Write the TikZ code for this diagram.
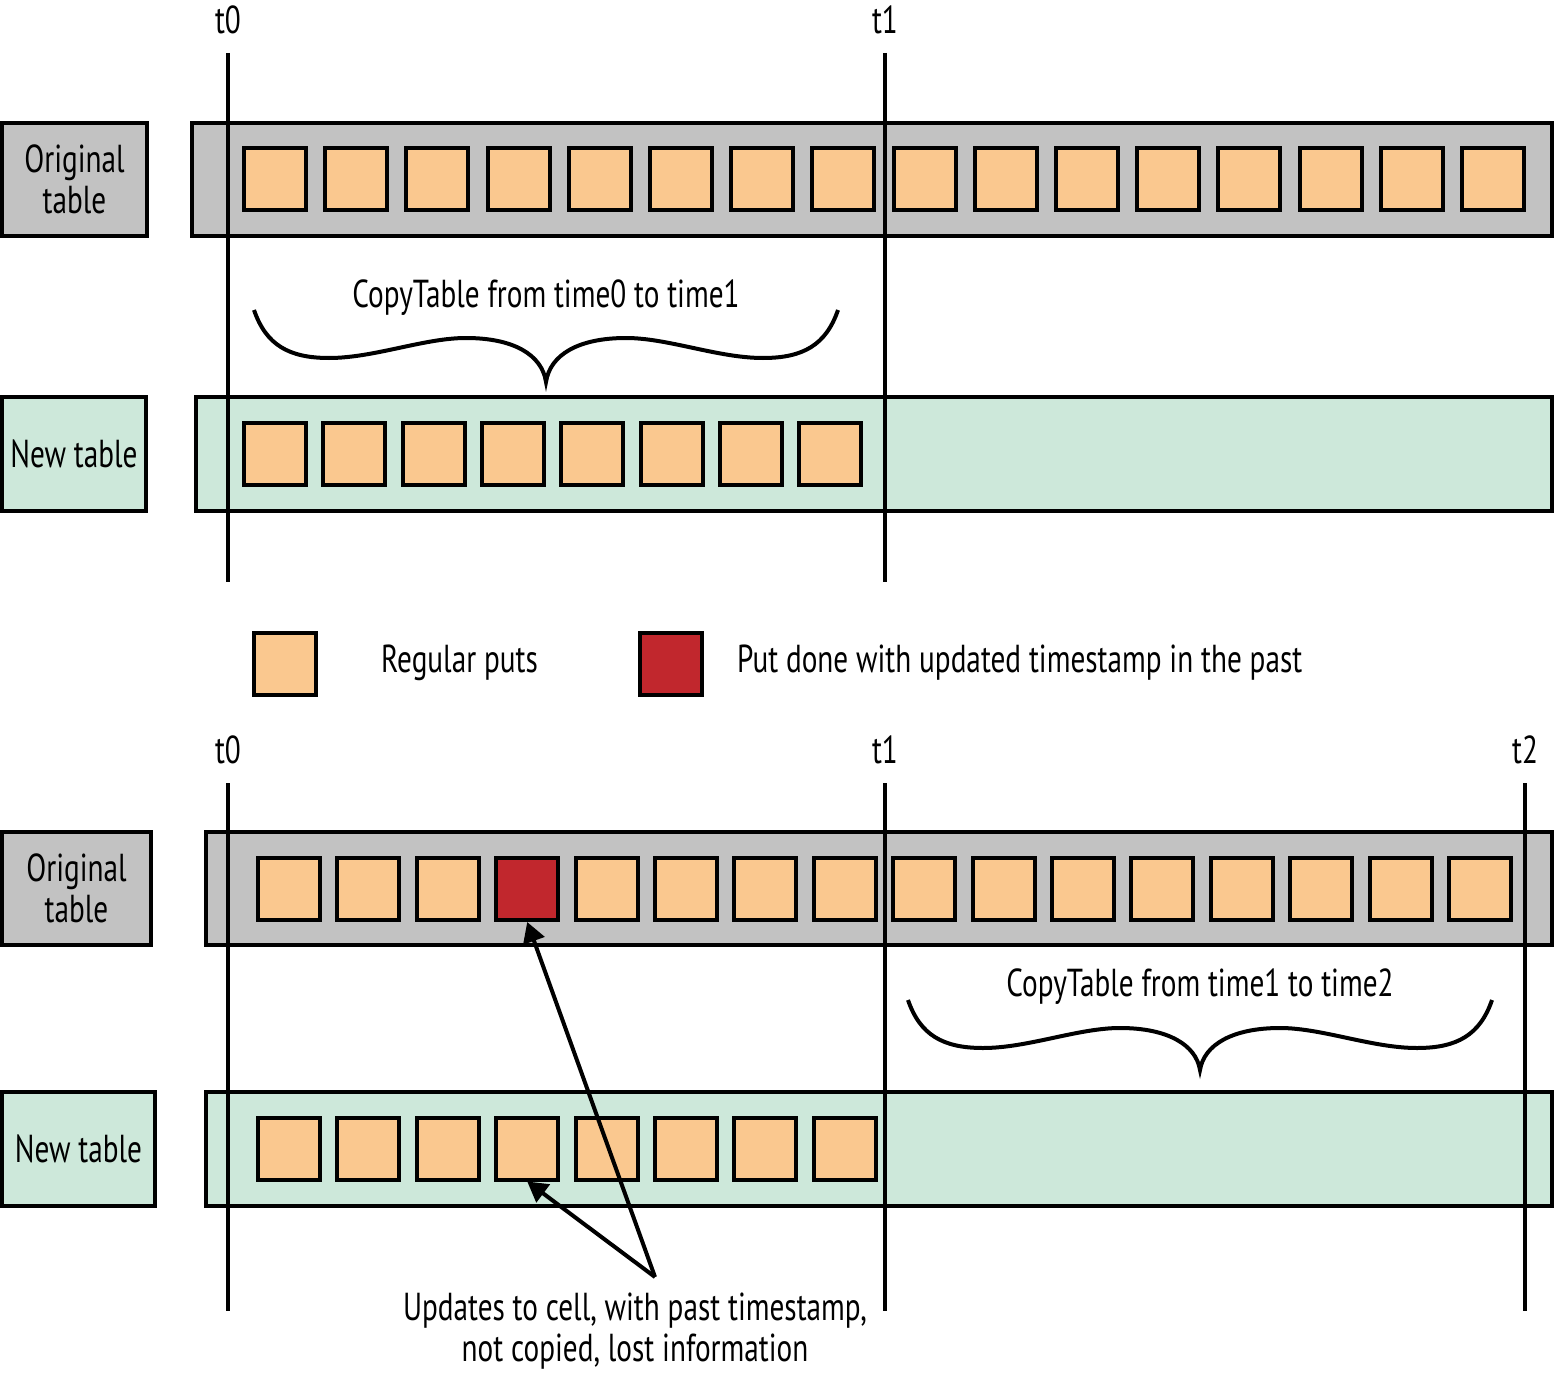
\documentclass[tikz,border=0pt]{standalone}
\usepackage{fontspec}
\setmainfont{PT Sans}[FakeStretch=0.75]
\usetikzlibrary{arrows.meta}

\definecolor{cellorange}{HTML}{FAC88F}
\definecolor{putred}{HTML}{C1272D}
\definecolor{tablegray}{HTML}{C2C2C2}
\definecolor{tablegreen}{HTML}{CDE8DA}

\tikzset{
  txt/.style={font=\fontsize{39}{41}\selectfont, inner sep=0pt},
  boxed/.style={draw, line width=4pt, inner sep=0pt, outer sep=0pt,
    anchor=north west},
  cell/.style={draw, line width=4pt, inner sep=0pt, fill=cellorange,
    minimum width=62pt, minimum height=62pt},
  tline/.style={line width=4pt},
  ptr/.style={line width=4pt, -{Triangle[length=20pt,width=22pt]}},
}

\begin{document}
\begin{tikzpicture}[x=1pt, y=-1pt]
  \useasboundingbox (0,0) rectangle (1556,1375);

  % ---- before the copy ----
  % Original table
  \node[boxed, fill=tablegray, minimum width=145pt, minimum height=113pt,
    txt, align=center] (olabA) at (2,123) {Original\\table};
  \node[boxed, fill=tablegray, minimum width=1360pt, minimum height=113pt]
    (obarA) at (192,123) {};
  \foreach \i in {0,...,15}
    \node[cell] (oa\i) at (275+81.2*\i, 179.5) {};
  % New table
  \node[boxed, fill=tablegreen, minimum width=144pt, minimum height=114pt,
    txt] (nlabA) at (2,397) {New table};
  \node[boxed, fill=tablegreen, minimum width=1356pt, minimum height=114pt]
    (nbarA) at (196,397) {};
  \foreach \i in {0,...,7}
    \node[cell] (na\i) at (275+79.3*\i, 454) {};
  % brace
  \draw[line width=4pt] (254,310) .. controls (266,345) and (289,358) .. (329,358)
    .. controls (374,358) and (424,338) .. (466,338)
    .. controls (514,338) and (542,355) .. (546,382)
    .. controls (550,355) and (578,338) .. (626,338)
    .. controls (668,338) and (718,358) .. (763,358)
    .. controls (803,358) and (826,345) .. (838,310);
  \node[txt] (copyA) at (546,298) {CopyTable from time0 to time1};
  % time lines
  \node[txt] (tA0) at (228,20) {t0};
  \node[txt] (tA1) at (885,20) {t1};
  \coordinate (tA0top) at (228,53);
  \coordinate (tA0bot) at (228,582);
  \coordinate (tA1top) at (885,53);
  \coordinate (tA1bot) at (885,582);
  \draw[tline] (tA0top) -- (tA0bot);
  \draw[tline] (tA1top) -- (tA1bot);

  % ---- legend ----
  \node[cell] (keyreg) at (284.5,663.5) {};
  \node[txt, anchor=west] (keyregtxt) at (381,663) {Regular puts};
  \node[cell, fill=putred] (keyred) at (670.5,663.5) {};
  \node[txt, anchor=west] (keyredtxt) at (737,663)
    {Put done with updated timestamp in the past};

  % ---- after the late put ----
  % Original table
  \node[boxed, fill=tablegray, minimum width=149pt, minimum height=113pt,
    txt, align=center] (olabB) at (2,832) {Original\\table};
  \node[boxed, fill=tablegray, minimum width=1346pt, minimum height=113pt]
    (obarB) at (206,832) {};
  \foreach \i in {0,...,15}
    \node[cell] (ob\i) at (289+79.4*\i, 889) {};
  \node[cell, fill=putred] (ob3) at (289+79.4*3, 889) {};
  % New table
  \node[boxed, fill=tablegreen, minimum width=153pt, minimum height=114pt,
    txt] (nlabB) at (2,1092) {New table};
  \node[boxed, fill=tablegreen, minimum width=1346pt, minimum height=114pt]
    (nbarB) at (206,1092) {};
  \foreach \i in {0,...,7}
    \node[cell] (nb\i) at (289+79.4*\i, 1148.5) {};
  % brace
  \draw[line width=4pt] (908,1000) .. controls (920,1035) and (943,1048) .. (983,1048)
    .. controls (1028,1048) and (1078,1028) .. (1120,1028)
    .. controls (1168,1028) and (1196,1045) .. (1200,1070)
    .. controls (1204,1045) and (1232,1028) .. (1280,1028)
    .. controls (1322,1028) and (1372,1048) .. (1417,1048)
    .. controls (1457,1048) and (1480,1035) .. (1492,1000);
  \node[txt] (copyB) at (1200,987) {CopyTable from time1 to time2};
  % time lines
  \node[txt] (tB0) at (228,750) {t0};
  \node[txt] (tB1) at (885,750) {t1};
  \node[txt] (tB2) at (1525,750) {t2};
  \coordinate (tB0top) at (228,783);
  \coordinate (tB0bot) at (228,1311);
  \coordinate (tB1top) at (885,783);
  \coordinate (tB1bot) at (885,1311);
  \coordinate (tB2top) at (1525,783);
  \coordinate (tB2bot) at (1525,1311);
  \draw[tline] (tB0top) -- (tB0bot);
  \draw[tline] (tB1top) -- (tB1bot);
  \draw[tline] (tB2top) -- (tB2bot);
  % lost update
  \coordinate (apex) at (655,1277);
  \draw[ptr] (apex) -- (ob3.south);
  \draw[ptr] (apex) -- (nb3.south);
  \node[txt, align=center] (lost) at (635,1331)
    {Updates to cell, with past timestamp,\\not copied, lost information};
\end{tikzpicture}
\end{document}
